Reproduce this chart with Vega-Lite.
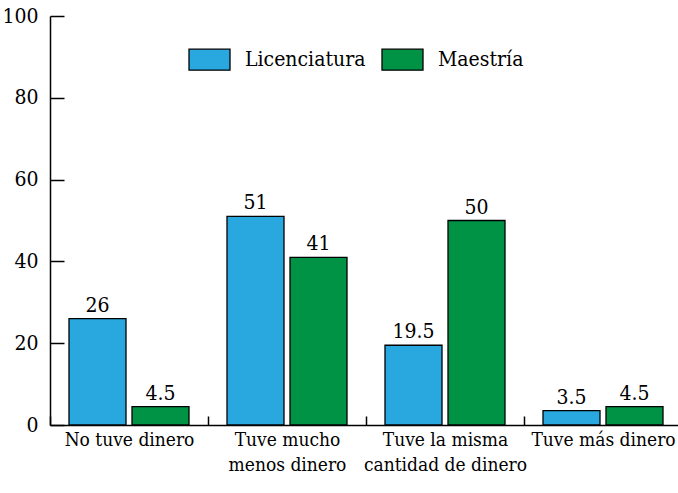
{
  "$schema": "https://vega.github.io/schema/vega-lite/v6.json",
  "width": 628,
  "height": 409,
  "autosize": {"type": "none"},
  "padding": {"left": 50, "top": 16, "right": 0, "bottom": 68},
  "background": "white",
  "config": {
    "view": {"stroke": null},
    "font": "DejaVu Serif Condensed",
    "axis": {"labelFont": "DejaVu Serif Condensed"},
    "legend": {"labelFont": "DejaVu Serif Condensed"},
    "text": {"font": "DejaVu Serif Condensed"}
  },
  "data": {
    "values": [
      {"categoria": "No tuve dinero", "nivel": "Licenciatura", "valor": 26},
      {"categoria": "No tuve dinero", "nivel": "Maestría", "valor": 4.5},
      {"categoria": "Tuve mucho|menos dinero", "nivel": "Licenciatura", "valor": 51},
      {"categoria": "Tuve mucho|menos dinero", "nivel": "Maestría", "valor": 41},
      {"categoria": "Tuve la misma|cantidad de dinero", "nivel": "Licenciatura", "valor": 19.5},
      {"categoria": "Tuve la misma|cantidad de dinero", "nivel": "Maestría", "valor": 50},
      {"categoria": "Tuve más dinero", "nivel": "Licenciatura", "valor": 3.5},
      {"categoria": "Tuve más dinero", "nivel": "Maestría", "valor": 4.5}
    ]
  },
  "encoding": {
    "x": {
      "field": "categoria",
      "type": "nominal",
      "sort": null,
      "scale": {"paddingInner": 0, "paddingOuter": 0, "range": [0, 632]},
      "axis": {
        "title": null,
        "labelAngle": 0,
        "labelExpr": "datum.value ? split(datum.value, '|') : ''",
        "labelFontSize": 19,
        "labelColor": "black",
        "labelLineHeight": 25,
        "labelBaseline": "top",
        "labelPadding": 14,
        "tickBand": "extent",
        "tickSize": -9,
        "tickColor": "black",
        "tickWidth": 1.5,
        "domainColor": "black",
        "domainWidth": 1.5
      }
    },
    "xOffset": {
      "field": "nivel",
      "type": "nominal",
      "scale": {"paddingInner": 0.0952, "paddingOuter": 0.3016}
    },
    "y": {
      "field": "valor",
      "type": "quantitative",
      "scale": {"domain": [0, 100], "nice": false},
      "axis": {
        "title": null,
        "values": [0, 20, 40, 60, 80, 100],
        "grid": false,
        "labelFontSize": 21,
        "labelColor": "black",
        "tickSize": -14,
        "tickColor": "black",
        "tickWidth": 1.5,
        "labelPadding": 26,
        "domainColor": "black",
        "domainWidth": 1.5
      }
    }
  },
  "layer": [
    {
      "mark": {"type": "bar", "stroke": "black", "strokeWidth": 1.3},
      "encoding": {
        "color": {
          "field": "nivel",
          "type": "nominal",
          "scale": {"domain": ["Licenciatura", "Maestría"], "range": ["#29A8E0", "#009245"]},
          "legend": {
            "title": null,
            "orient": "none",
            "direction": "horizontal",
            "legendX": 138,
            "legendY": 22,
            "symbolType": "M-1,-0.512L1,-0.512L1,0.512L-1,0.512Z",
            "symbolSize": 1681,
            "symbolStrokeColor": "black",
            "symbolStrokeWidth": 1.3,
            "symbolOpacity": 1,
            "labelFontSize": 21,
            "labelColor": "black",
            "labelOffset": 14,
            "columnPadding": 13
          }
        }
      }
    },
    {
      "mark": {"type": "text", "baseline": "alphabetic", "dy": -7, "fontSize": 21, "color": "black"},
      "encoding": {
        "text": {"field": "valor", "type": "quantitative"}
      }
    }
  ]
}
